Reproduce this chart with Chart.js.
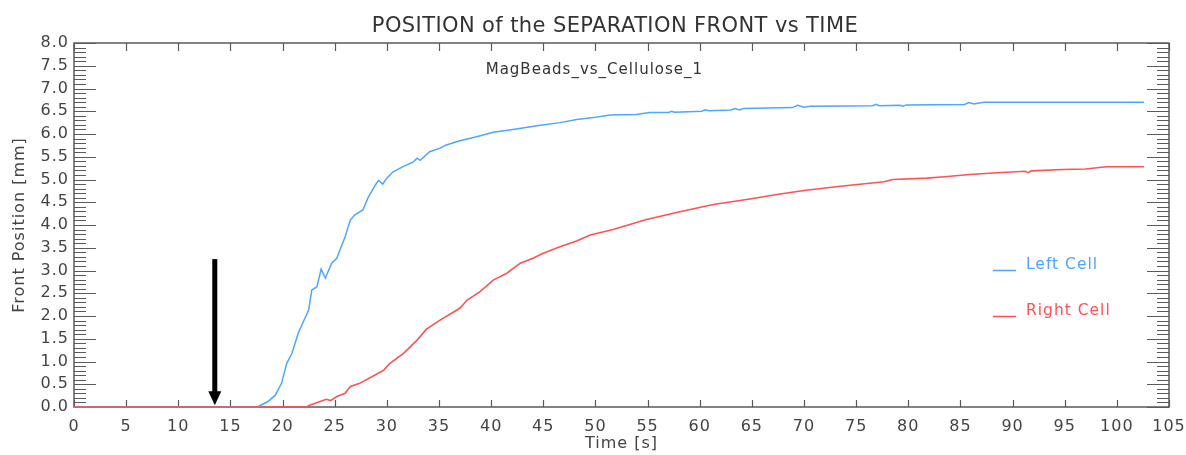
<!DOCTYPE html>
<html>
<head>
<meta charset="utf-8">
<script src="https://cdn.jsdelivr.net/npm/chart.js@4/dist/chart.umd.min.js"></script>
<style>
  html, body { margin: 0; padding: 0; background: #fff; }
  #wrap { width: 1186px; height: 455px; }
</style>
</head>
<body>
<div id="wrap"><canvas id="myChart" width="1186" height="455"></canvas></div>
<script>
// data
const leftTime = [0, 17.6, 18.0, 18.6, 19.3, 19.9, 20.4, 20.9, 21.5, 22.0,
  22.5, 22.8, 23.3, 23.7, 24.1, 24.7, 25.2, 25.5, 26.0, 26.5,
  26.9, 27.7, 28.2, 28.9, 29.2, 29.6, 30.0, 30.6, 31.6, 32.5,
  32.9, 33.2, 34.1, 35.1, 35.7, 37.0, 38.6, 40.2, 42.1, 44.4,
  46.6, 48.2, 49.8, 51.4, 53.9, 55.2, 57.0, 57.3, 57.6, 60.2,
  60.5, 60.9, 63.0, 63.4, 63.8, 64.2, 68.9, 69.4, 70.0, 70.6,
  76.6, 76.9, 77.2, 79.2, 79.5, 79.8, 85.4, 85.8, 86.3, 86.8,
  87.3, 102.6];
const leftPos = [0, 0, 0.05, 0.12, 0.26, 0.52, 0.96, 1.18, 1.62, 1.88,
  2.13, 2.57, 2.64, 3.03, 2.83, 3.16, 3.27, 3.45, 3.74, 4.11,
  4.22, 4.33, 4.60, 4.88, 4.98, 4.90, 5.03, 5.17, 5.29, 5.38,
  5.47, 5.42, 5.61, 5.69, 5.76, 5.85, 5.94, 6.04, 6.10, 6.18,
  6.25, 6.32, 6.36, 6.42, 6.43, 6.47, 6.47, 6.50, 6.48, 6.50,
  6.53, 6.51, 6.53, 6.56, 6.53, 6.56, 6.58, 6.63, 6.59, 6.61,
  6.62, 6.65, 6.62, 6.63, 6.61, 6.64, 6.65, 6.69, 6.66, 6.68,
  6.70, 6.70];

const rightTime = [0, 22.3, 22.6, 23.6, 24.2, 24.6, 25.2, 26.0, 26.5, 27.4,
  28.7, 29.7, 30.3, 31.6, 32.9, 33.8, 35.1, 37.0, 37.7, 38.9,
  40.2, 41.5, 42.8, 44.0, 45.0, 46.6, 48.2, 49.5, 51.7, 54.9,
  58.1, 61.3, 64.5, 67.7, 70.0, 73.5, 77.7, 78.5, 81.8, 83.5,
  85.9, 88.5, 91.2, 91.5, 91.8, 94.8, 97.0, 99.0, 102.6];
const rightPos = [0, 0, 0.04, 0.12, 0.17, 0.14, 0.23, 0.30, 0.45, 0.52,
  0.68, 0.81, 0.96, 1.18, 1.47, 1.71, 1.91, 2.17, 2.35, 2.53,
  2.79, 2.94, 3.16, 3.27, 3.38, 3.52, 3.65, 3.78, 3.90, 4.12,
  4.29, 4.45, 4.56, 4.68, 4.76, 4.85, 4.95, 5.00, 5.03, 5.06,
  5.11, 5.15, 5.18, 5.15, 5.19, 5.22, 5.23, 5.28, 5.28];

const seriesLabels = ['Left Cell', 'Right Cell'];
const seriesColors = ['#4da6ff', '#ff5252'];

const timeRange = [0, 105];
const posRange = [0, 8];
const timeStep = 5;
const posStep = 0.5;
const posMinorStep = 0.1;

const chartTitle = 'POSITION of the SEPARATION FRONT vs TIME';
const runName = 'MagBeads_vs_Cellulose_1';
const runNameAt = [49.9, 7.4];           // time, position
const arrowAt = [13.5, 3.25, 0.04];      // time, top, tip

const FONT = 'DejaVu Sans';
const AXIS_GREY = '#5a5a5a';

function toPoints(xs, ys) {
  return xs.map((x, i) => ({ x: x, y: ys[i] }));
}

// box round the plot with IDL style inward ticks, plus the extra text
const frameTicks = {
  id: 'frameTicks',
  beforeDraw(chart) {
    // the IDL vector font is spaced wider than DejaVu
    chart.ctx.letterSpacing = '1px';
  },
  beforeDatasetsDraw(chart) {
    const { ctx, chartArea: a, scales: { x, y } } = chart;
    ctx.save();
    ctx.strokeStyle = AXIS_GREY;
    ctx.lineWidth = 1.5;
    ctx.strokeRect(a.left, a.top, a.right - a.left, a.bottom - a.top);
    ctx.lineWidth = 1.2;
    ctx.beginPath();
    for (let t = timeRange[0]; t <= timeRange[1]; t += timeStep) {
      const px = Math.round(x.getPixelForValue(t)) + 0.5;
      ctx.moveTo(px, a.bottom); ctx.lineTo(px, a.bottom - 7);
      ctx.moveTo(px, a.top); ctx.lineTo(px, a.top + 8);
    }
    const n = Math.round((posRange[1] - posRange[0]) / posMinorStep);
    for (let i = 0; i <= n; i++) {
      const v = posRange[0] + i * posMinorStep;
      const major = i % Math.round(posStep / posMinorStep) === 0;
      const len = major ? 22 : 12;
      const py = Math.round(y.getPixelForValue(v)) + 0.5;
      ctx.moveTo(a.left, py); ctx.lineTo(a.left + len, py);
      ctx.moveTo(a.right, py); ctx.lineTo(a.right - len, py);
    }
    ctx.stroke();
    ctx.restore();
  },
  afterDraw(chart) {
    const { ctx, scales: { x, y } } = chart;
    ctx.save();
    ctx.textBaseline = 'middle';

    // main title
    ctx.letterSpacing = '0.4px';
    ctx.fillStyle = '#333';
    ctx.font = '21px "' + FONT + '"';
    ctx.textAlign = 'center';
    ctx.fillText(chartTitle, 615, 27);
    ctx.letterSpacing = '1px';

    // run name inside the plot
    ctx.font = '15px "' + FONT + '"';
    ctx.fillText(runName, x.getPixelForValue(runNameAt[0]), y.getPixelForValue(runNameAt[1]));

    // legend, drawn from the datasets
    chart.data.datasets.forEach((ds, i) => {
      const ly = 270 + i * 46;
      ctx.strokeStyle = ds.borderColor;
      ctx.lineWidth = 1.5;
      ctx.beginPath();
      ctx.moveTo(993, ly + 0.5); ctx.lineTo(1016, ly + 0.5);
      ctx.stroke();
      ctx.fillStyle = ds.borderColor;
      ctx.textAlign = 'left';
      ctx.font = '15.5px "' + FONT + '"';
      ctx.fillText(ds.label, 1026, ly - 5);
    });

    // arrow
    const ax = x.getPixelForValue(arrowAt[0]);
    const top = y.getPixelForValue(arrowAt[1]);
    const tip = y.getPixelForValue(arrowAt[2]);
    ctx.fillStyle = '#000';
    ctx.fillRect(ax - 2.5, top, 5, tip - top - 12);
    ctx.beginPath();
    ctx.moveTo(ax - 6.5, tip - 14);
    ctx.lineTo(ax + 6.5, tip - 14);
    ctx.lineTo(ax, tip);
    ctx.closePath();
    ctx.fill();
    ctx.restore();
  }
};

const chartContainer = document.getElementById('myChart');
new Chart(chartContainer, {
  type: 'line',
  data: {
    datasets: [
      {
        label: seriesLabels[0],
        data: toPoints(leftTime, leftPos),
        borderColor: seriesColors[0],
        borderWidth: 1.5,
        order: 2,
      },
      {
        label: seriesLabels[1],
        data: toPoints(rightTime, rightPos),
        borderColor: seriesColors[1],
        borderWidth: 1.6,
        order: 1,
      },
    ],
  },
  options: {
    responsive: false,
    animation: false,
    devicePixelRatio: 1,
    layout: { padding: { left: 0, right: 17, top: 43, bottom: 0 } },
    elements: {
      point: { radius: 0 },
      line: { tension: 0 },
    },
    datasets: { line: { clip: 4 } },
    plugins: {
      legend: { display: false },
      tooltip: { enabled: false },
      title: { display: false },
    },
    scales: {
      x: {
        type: 'linear',
        min: timeRange[0],
        max: timeRange[1],
        afterFit: (scale) => {
          scale.height = 48;
          // let the last label hang into the right margin
          scale.paddingLeft = 0;
          scale.paddingRight = 0;
        },
        grid: { display: false, drawTicks: false },
        border: { display: false },
        ticks: {
          stepSize: timeStep,
          autoSkip: false,
          maxRotation: 0,
          padding: 10,
          color: '#444',
          font: { family: FONT, size: 16 },
        },
        title: {
          display: true,
          text: 'Time [s]',
          color: '#444',
          font: { family: FONT, size: 16 },
          padding: { top: 0, bottom: 2 },
        },
      },
      y: {
        type: 'linear',
        min: posRange[0],
        max: posRange[1],
        afterFit: (scale) => { scale.width = 74; },
        grid: { display: false, drawTicks: false },
        border: { display: false },
        ticks: {
          stepSize: posStep,
          autoSkip: false,
          padding: 5,
          color: '#444',
          font: { family: FONT, size: 16 },
          callback: (v) => Number(v).toFixed(1),
        },
        title: {
          display: true,
          text: 'Front Position [mm]',
          color: '#444',
          font: { family: FONT, size: 16 },
          padding: { top: 10, bottom: 0 },
        },
      },
    },
  },
  plugins: [frameTicks],
});
</script>
</body>
</html>
